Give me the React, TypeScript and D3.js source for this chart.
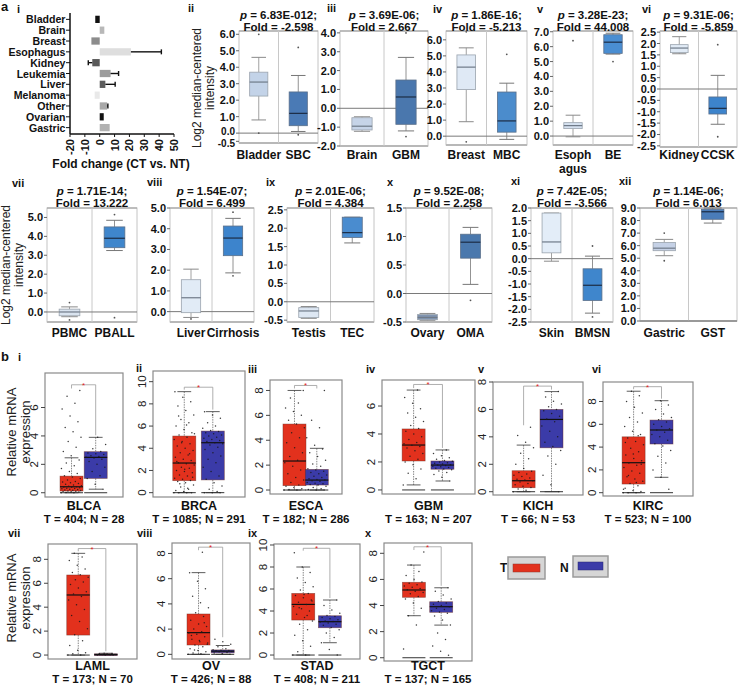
import React from "react";
import * as d3 from "d3";

const FONT = "'Liberation Sans', Arial, Helvetica, sans-serif";

// ---------------- Panel a-i : fold change bars ----------------
const cancerTypes = ["Bladder", "Brain", "Breast", "Esophagus", "Kidney", "Leukemia", "Liver", "Melanoma", "Other", "Ovarian", "Gastric"];
const foldChange = [-3, 3.1, -5.6, 21, -5, 7.3, 3.8, -3.4, 5, 2.7, 6.7];
const foldError = [0, 0, 0, 20.5, 2.7, 5.4, 6.6, 0, 0.5, 0, 0];
const foldTicks = [-20, -10, 0, 10, 20, 30, 40, 50];
const barShades = ["#111", "#b8b8b8", "#8c8c8c", "#dedede", "#5a5a5a", "#9c9c9c", "#5e5e5e", "#e9e9e9", "#a8a8a8", "#111", "#b2b2b2"];

// ---------------- Panel a ii-xii : Oncomine boxes ----------------
const oncoIds = ["ii", "iii", "iv", "v", "vi", "vii", "viii", "ix", "x", "xi", "xii"];
const oncoP = ["6.83E-012", "3.69E-06", "1.86E-16", "3.28E-23", "9.31E-06", "1.71E-14", "1.54E-07", "2.01E-06", "9.52E-08", "7.42E-05", "1.14E-06"];
const oncoFold = ["-2.598", "2.667", "-5.213", "44.008", "-5.859", "13.222", "6.499", "4.384", "2.258", "-3.566", "6.013"];
const oncoNormalLabel = ["Bladder", "Brain", "Breast", "Esoph\nagus", "Kidney", "PBMC", "Liver", "Testis", "Ovary", "Skin", "Gastric"];
const oncoTumorLabel = ["SBC", "GBM", "MBC", "BE", "CCSK", "PBALL", "Cirrhosis", "TEC", "OMA", "BMSN", "GST"];
// [lowWhisker, q1, median, q3, highWhisker]
const oncoNormalStats = [
  [0.8, 2.25, 3.1, 3.7, 4.6],
  [-1.22, -1.15, -0.95, -0.5, -0.45],
  [0.9, 2.9, 4.3, 5.06, 5.5],
  [-0.05, 0.5, 0.7, 0.9, 1.4],
  [1.55, 1.6, 1.8, 1.95, 2.3],
  [-0.25, -0.2, 0.0, 0.15, 0.27],
  [-0.28, -0.05, 0.67, 1.54, 2.05],
  [-0.45, -0.43, -0.25, -0.16, -0.13],
  [-0.47, -0.46, -0.42, -0.37, -0.35],
  [-0.1, 0.23, 0.66, 1.8, 1.8],
  [5.2, 5.6, 5.8, 6.25, 6.5],
];
const oncoTumorStats = [
  [0.1, 0.45, 1.2, 2.5, 3.5],
  [-1.2, -0.85, 0.6, 1.5, 2.7],
  [-0.2, 0.25, 0.95, 2.75, 3.3],
  [5.5, 5.55, 6.3, 6.8, 6.9],
  [-1.55, -1.1, -0.85, -0.35, 0.6],
  [3.25, 3.4, 3.9, 4.5, 4.85],
  [1.87, 2.7, 3.55, 4.13, 4.5],
  [1.6, 1.75, 1.88, 2.3, 2.3],
  [0.16, 0.62, 0.9, 1.04, 1.16],
  [-2.15, -1.65, -1.05, -0.4, 0.1],
  [7.8, 8.1, 8.7, 8.9, 9.0],
];
const oncoNormalOut = [[6.0, 0.0], [], [6.5, -0.35], [6.4], [], [0.5, -0.42], [-0.35], [], [], [], [7.0, 4.8]];
const oncoTumorOut = [[5.2, -0.1], [4.0, -1.5], [5.1], [5.0], [1.95, -2.1], [5.15, -0.3], [4.8, 1.73], [], [1.48, -0.12], [0.5, -2.3], []];
const oncoDomains = [[-0.6, 6.2], [-2.0, 4.1], [-0.55, 6.55], [-0.6, 7.05], [-2.55, 2.55], [-0.53, 5.5], [-0.5, 5.0], [-0.55, 2.55], [-0.5, 1.5], [-2.5, 2.0], [0, 9]];
const oncoTicks = [
  [-0.5, 0, 1, 2, 3, 4, 5, 6],
  [-2, -1, 0, 1, 2, 3, 4],
  [0, 1, 2, 3, 4, 5, 6],
  [0, 1, 2, 3, 4, 5, 6, 7],
  [-2.5, -2, -1.5, -1, -0.5, 0, 0.5, 1, 1.5, 2, 2.5],
  [0, 1, 2, 3, 4, 5],
  [0, 1, 2, 3, 4, 5],
  [-0.5, 0, 0.5, 1, 1.5, 2, 2.5],
  [-0.5, 0, 0.5, 1, 1.5],
  [-2.5, -2, -1.5, -1, -0.5, 0, 0.5, 1, 1.5, 2],
  [0, 1, 2, 3, 4, 5, 6, 7, 8, 9],
];

// ---------------- Panel b : GEPIA boxes ----------------
const gepiaIds = ["i", "ii", "iii", "iv", "v", "vi", "vii", "viii", "ix", "x"];
const gepiaCodes = ["BLCA", "BRCA", "ESCA", "GBM", "KICH", "KIRC", "LAML", "OV", "STAD", "TGCT"];
const gepiaT = [404, 1085, 182, 163, 66, 523, 173, 426, 408, 137];
const gepiaN = [28, 291, 286, 207, 53, 100, 70, 88, 211, 165];
const gepiaTumorStats = [
  [0, 0.12, 0.42, 1.17, 2.46],
  [0, 1.08, 2.67, 5.1, 9.1],
  [0, 0.35, 2.33, 5.3, 8.0],
  [0.36, 2.07, 3.21, 4.36, 7.14],
  [0, 0.29, 0.8, 1.53, 3.4],
  [0, 0.76, 2.63, 4.9, 8.9],
  [0, 1.67, 5.02, 6.69, 8.5],
  [0, 0.74, 1.72, 3.2, 6.48],
  [0, 3.18, 4.6, 5.6, 8.0],
  [3.22, 4.63, 5.19, 5.78, 7.1],
];
const gepiaNormalStats = [
  [0.25, 1.01, 2.49, 2.89, 3.9],
  [0, 1.15, 4.5, 5.55, 7.3],
  [0, 0.4, 0.8, 1.66, 3.35],
  [0.64, 1.48, 1.78, 2.07, 2.86],
  [0, 3.2, 5.27, 6.0, 7.3],
  [1.35, 4.27, 5.5, 6.37, 8.07],
  [0, 0.02, 0.05, 0.1, 0.15],
  [0, 0.12, 0.25, 0.35, 0.7],
  [1.12, 2.48, 3.03, 3.57, 5.0],
  [2.5, 3.48, 3.91, 4.29, 5.36],
];
const gepiaTumorPoints = [
  [0, 0, 0.02, 0.05, 0.05, 0.08, 0.1, 0.12, 0.15, 0.18, 0.2, 0.22, 0.25, 0.28, 0.3, 0.32, 0.35, 0.38, 0.4, 0.42, 0.45, 0.5, 0.55, 0.6, 0.65, 0.7, 0.75, 0.8, 0.9, 1.0, 1.1, 1.2, 1.35, 1.5, 1.7, 1.9, 2.1, 2.3, 2.6, 2.9, 3.2, 3.6, 3.9, 4.3, 4.6, 5.0, 5.4, 5.9, 6.3, 6.8, 7.2],
  [0, 0, 0, 0, 0.1, 0.2, 0.3, 0.5, 0.7, 0.9, 1.0, 1.1, 1.2, 1.3, 1.5, 1.6, 1.8, 1.9, 2.0, 2.2, 2.3, 2.5, 2.6, 2.7, 2.9, 3.0, 3.2, 3.4, 3.6, 3.8, 4.0, 4.2, 4.4, 4.6, 4.8, 5.0, 5.2, 5.4, 5.7, 6.0, 6.3, 6.6, 7.0, 7.4, 7.8, 8.2, 8.6, 9.1, 0.4, 0.8, 1.4, 2.1, 2.8, 3.5, 4.5, 5.3, 6.1, 6.9],
  [0, 0, 0.05, 0.1, 0.2, 0.3, 0.4, 0.6, 0.8, 1.0, 1.3, 1.6, 1.9, 2.2, 2.4, 2.7, 3.0, 3.4, 3.8, 4.2, 4.6, 5.0, 5.3, 5.6, 6.0, 6.3, 6.6, 7.0, 7.4, 8.0],
  [0.36, 0.8, 1.2, 1.5, 1.8, 2.0, 2.2, 2.4, 2.6, 2.8, 3.0, 3.1, 3.2, 3.3, 3.4, 3.6, 3.8, 4.0, 4.2, 4.4, 4.6, 4.9, 5.2, 5.5, 5.8, 6.2, 6.6, 7.14],
  [0, 0.1, 0.2, 0.3, 0.4, 0.5, 0.6, 0.7, 0.8, 0.85, 0.9, 1.0, 1.1, 1.2, 1.3, 1.4, 1.5, 1.7, 2.0, 2.4, 2.8, 3.2, 3.6, 4.1, 4.7],
  [0, 0, 0, 0.1, 0.2, 0.4, 0.6, 0.8, 1.0, 1.2, 1.4, 1.7, 1.9, 2.2, 2.4, 2.6, 2.8, 3.0, 3.3, 3.6, 3.9, 4.2, 4.5, 4.8, 5.1, 5.4, 5.8, 6.2, 6.6, 7.0, 7.5, 8.0, 8.5, 8.9, 0.3, 0.9, 1.5, 2.5, 3.4, 4.4, 5.0],
  [0, 0, 0.1, 0.2, 0.4, 0.8, 1.2, 1.7, 2.2, 2.8, 3.3, 3.8, 4.2, 4.6, 4.9, 5.1, 5.3, 5.6, 5.9, 6.1, 6.3, 6.5, 6.7, 6.9, 7.2, 7.5, 7.9, 8.2, 8.5],
  [0, 0.05, 0.1, 0.2, 0.3, 0.45, 0.6, 0.75, 0.9, 1.0, 1.2, 1.4, 1.6, 1.7, 1.8, 2.0, 2.2, 2.4, 2.7, 3.0, 3.3, 3.7, 4.1, 4.6, 5.2, 5.8, 6.48, 8.1, 0.35, 0.8, 1.1, 1.5, 2.5],
  [0, 0, 0.3, 0.8, 1.3, 1.8, 2.3, 2.8, 3.1, 3.4, 3.7, 4.0, 4.2, 4.4, 4.6, 4.8, 5.0, 5.2, 5.4, 5.6, 5.9, 6.2, 6.6, 7.0, 7.5, 8.0, 9.3, 3.6, 4.3, 4.9, 5.5],
  [0.67, 2.5, 3.22, 3.8, 4.2, 4.5, 4.7, 4.9, 5.0, 5.1, 5.2, 5.3, 5.4, 5.5, 5.6, 5.7, 5.8, 6.0, 6.3, 6.6, 7.1, 8.1],
];
const gepiaNormalPoints = [
  [0.25, 0.6, 1.0, 1.2, 1.5, 1.8, 2.0, 2.2, 2.35, 2.45, 2.5, 2.55, 2.6, 2.7, 2.75, 2.8, 2.9, 3.1, 3.4, 3.9],
  [0, 0, 0, 0.1, 0.3, 0.6, 0.9, 1.2, 1.5, 1.9, 2.3, 2.7, 3.0, 3.3, 3.6, 3.9, 4.1, 4.3, 4.4, 4.5, 4.6, 4.7, 4.8, 4.9, 5.0, 5.1, 5.2, 5.3, 5.4, 5.5, 5.6, 5.8, 6.0, 6.3, 6.7, 7.0, 7.3],
  [0, 0, 0.05, 0.1, 0.2, 0.3, 0.4, 0.45, 0.5, 0.55, 0.6, 0.7, 0.75, 0.8, 0.85, 0.9, 1.0, 1.1, 1.2, 1.3, 1.4, 1.5, 1.6, 1.7, 1.9, 2.1, 2.4, 2.7, 3.0, 3.3, 3.6, 4.2, 5.0, 5.6, 8.0],
  [0.64, 0.9, 1.1, 1.25, 1.35, 1.45, 1.5, 1.55, 1.6, 1.65, 1.7, 1.75, 1.78, 1.8, 1.85, 1.9, 1.95, 2.0, 2.05, 2.1, 2.2, 2.3, 2.45, 2.6, 2.86],
  [0, 0.5, 1.2, 2.0, 2.6, 3.0, 3.3, 3.6, 4.0, 4.4, 4.8, 5.1, 5.3, 5.5, 5.7, 5.9, 6.0, 6.2, 6.4, 6.6, 6.9, 7.3],
  [0.3, 1.35, 2.0, 2.6, 3.2, 3.7, 4.1, 4.3, 4.6, 4.9, 5.1, 5.3, 5.5, 5.6, 5.8, 6.0, 6.2, 6.4, 6.6, 6.9, 7.3, 7.7, 8.07],
  [0, 0, 0, 0.02, 0.05, 0.05, 0.08, 0.1, 0.12, 0.15],
  [0, 0.05, 0.1, 0.15, 0.2, 0.22, 0.25, 0.28, 0.3, 0.33, 0.36, 0.45, 0.6, 0.8, 1.0, 1.2],
  [0, 0.5, 1.12, 1.6, 2.0, 2.3, 2.5, 2.7, 2.8, 2.9, 3.0, 3.05, 3.1, 3.2, 3.3, 3.4, 3.5, 3.6, 3.8, 4.1, 4.5, 5.0],
  [0.2, 0.5, 0.9, 1.4, 1.9, 2.5, 2.9, 3.2, 3.4, 3.5, 3.6, 3.7, 3.8, 3.9, 4.0, 4.1, 4.2, 4.3, 4.5, 4.8, 5.1, 5.36],
];
const gepiaDomains = [[-0.3, 8.43], [-0.39, 10.96], [-0.32, 8.84], [-0.29, 7.86], [-0.24, 8.0], [-0.29, 9.71], [-0.33, 9.28], [-0.37, 8.83], [-0.36, 10.09], [-0.25, 8.79]];
const gepiaTickMax = [6, 10, 8, 6, 8, 8, 8, 8, 10, 8];

// ---------------- layout (positions only) ----------------
const oncoFrames = [
  [239, 318, 31, 143], [340, 428, 31, 146], [446, 527, 31, 145], [553, 633, 31, 145], [660, 737, 31, 147],
  [47, 137, 208, 322], [170, 254, 208, 322], [287, 374, 208, 322], [406, 492, 208, 322], [531, 613, 208, 322], [640, 737, 208, 321],
];
const oncoRoman = [[188, 12], [327, 12], [433, 13], [537, 13], [642, 13], [12, 187], [147, 186], [266, 186], [387, 186], [511, 185], [619, 185]];
const oncoNormalFill = ["#c3d3e8", "#c6d4e8", "#dfe9f5", "#d5e1f0", "#e1ebf6", "#d9e3ef", "#e1ebf6", "#dde7f3", "#8094b0", "#e3edf8", "#c5d1e6"];
const oncoTumorFill = ["#4a7ab5", "#4a77ad", "#4b8ccc", "#4a8ed2", "#3d84cc", "#3f86cc", "#3d84cc", "#4a8ccf", "#4a78ad", "#3f86cc", "#4a7cb9"];
const gepiaFrames = [
  [45, 123, 373, 497], [153, 245, 371, 497], [270, 342, 380, 494], [382, 475, 380, 494], [493, 583, 382, 495], [603, 693, 382, 496],
  [48, 137, 544, 659], [172, 250, 543, 659], [274, 360, 544, 659], [384, 472, 543, 661],
];
const gepiaRoman = [[18, 361], [136, 372], [248, 373], [366, 373], [478, 373], [592, 373], [8, 537], [137, 537], [248, 537], [365, 537]];
const RED = "#e2311d";
const BLUE = "#3b3ba8";

function FoldBars() {
  const x = d3.scaleLinear().domain([-20, 50]).range([70, 174]);
  const y = d3.scaleBand().domain(cancerTypes).range([14, 133]).paddingInner(0.33).paddingOuter(0.16);
  const bh = y.bandwidth();
  return (
    <g>
      {cancerTypes.map((c, i) => {
        const v = foldChange[i];
        const y0 = y(c)!;
        const xa = x(Math.min(0, v));
        const xb = x(Math.max(0, v));
        const e = foldError[i];
        const ye = y0 + bh / 2;
        return (
          <g key={c}>
            <rect x={xa} y={y0} width={xb - xa} height={bh} fill={barShades[i]} />
            {e > 0 && (
              <g stroke="#111" strokeWidth={1.4}>
                <line x1={x(v)} x2={x(v + Math.sign(v) * e)} y1={ye} y2={ye} />
                <line x1={x(v + Math.sign(v) * e)} x2={x(v + Math.sign(v) * e)} y1={ye - 2.5} y2={ye + 2.5} />
              </g>
            )}
            <line x1={66} x2={70} y1={ye} y2={ye} stroke="#111" strokeWidth={1} />
            <text x={65.5} y={ye} textAnchor="end" dominantBaseline="central" fontSize={10.6} fontWeight="bold">{c}</text>
          </g>
        );
      })}
      <line x1={70} x2={70} y1={13} y2={134} stroke="#111" strokeWidth={1.5} />
      <line x1={70} x2={174} y1={134} y2={134} stroke="#111" strokeWidth={1.5} />
      {foldTicks.map((t) => (
        <g key={t}>
          <line x1={x(t)} x2={x(t)} y1={134} y2={137} stroke="#111" />
          <text transform={`translate(${x(t) + 4},139) rotate(-90)`} textAnchor="end" fontSize={11} fontWeight="bold">{t}</text>
        </g>
      ))}
      <text x={121} y={168} textAnchor="middle" fontSize={12} fontWeight="bold">Fold change (CT vs. NT)</text>
    </g>
  );
}

function BoxGlyph({ cx, bw, y, stats, fill, stroke, med, capStroke }) {
  const [lo, q1, md, q3, hi] = stats;
  const cap = bw * 0.8;
  return (
    <g>
      <line x1={cx} x2={cx} y1={y(hi)} y2={y(q3)} stroke={capStroke} strokeWidth={0.8} />
      <line x1={cx} x2={cx} y1={y(q1)} y2={y(lo)} stroke={capStroke} strokeWidth={0.8} />
      <line x1={cx - cap / 2} x2={cx + cap / 2} y1={y(hi)} y2={y(hi)} stroke={capStroke} strokeWidth={1} />
      <line x1={cx - cap / 2} x2={cx + cap / 2} y1={y(lo)} y2={y(lo)} stroke={capStroke} strokeWidth={1} />
      <rect x={cx - bw / 2} y={y(q3)} width={bw} height={Math.max(1, y(q1) - y(q3))} fill={fill} stroke={stroke} strokeWidth={0.8} />
      <line x1={cx - bw / 2} x2={cx + bw / 2} y1={y(md)} y2={y(md)} stroke={med} strokeWidth={1.2} />
    </g>
  );
}

function OncoPanel({ i }) {
  const [x0, x1, y0, y1] = oncoFrames[i];
  const y = d3.scaleLinear().domain(oncoDomains[i]).range([y1, y0]);
  const xb = d3.scaleBand().domain(["N", "T"]).range([x0, x1]);
  const cN = xb("N")! + xb.bandwidth() / 2;
  const cT = xb("T")! + xb.bandwidth() / 2;
  const bw = (x1 - x0) * 0.23;
  const row2 = i >= 5;
  const tb1 = row2 ? 195 : 19;
  const labY = row2 ? 337 : 159;
  const mid = (x0 + x1) / 2;
  const zero = y(0);
  const tks = oncoTicks[i];
  return (
    <g>
      <rect x={x0} y={y0} width={x1 - x0} height={y1 - y0} fill="none" stroke="#c4c4c4" strokeWidth={1} />
      <line x1={x0} x2={x1} y1={y0} y2={y0} stroke="#9a9a9a" strokeWidth={1.2} />
      <line x1={x0} x2={x1} y1={y1} y2={y1} stroke="#b8b8b8" strokeWidth={2} />
      <line x1={mid} x2={mid} y1={y0} y2={y1} stroke="#c8c8c8" strokeWidth={1} />
      {zero >= y0 && zero <= y1 && <line x1={x0} x2={x1} y1={zero} y2={zero} stroke="#7a7a7a" strokeWidth={1} />}
      {tks.map((t, k) => {
        // nudge labels apart when two ticks sit closer than the text height
        const gapBelow = k === 0 && tks.length > 1 ? y(t) - y(tks[1]) : 99;
        const gapAbove = k === 1 ? y(tks[0]) - y(t) : 99;
        const dy = gapBelow < 11 ? 2 : gapAbove < 11 ? -1.5 : 0;
        return (
          <g key={t}>
            <line x1={x0 - 3} x2={x0} y1={y(t)} y2={y(t)} stroke="#666" />
            <text x={x0 - 4} y={y(t) + dy} textAnchor="end" dominantBaseline="central" fontSize={gapBelow < 11 || gapAbove < 11 ? 10 : 11} fontWeight="bold">{t.toFixed(1)}</text>
          </g>
        );
      })}
      <BoxGlyph cx={cN} bw={bw} y={y} stats={oncoNormalStats[i]} fill={oncoNormalFill[i]} stroke="#9aa3ad" med="#6f7a88" capStroke="#8a8a8a" />
      <BoxGlyph cx={cT} bw={bw} y={y} stats={oncoTumorStats[i]} fill={oncoTumorFill[i]} stroke="#5a6f8a" med="#1c2c44" capStroke="#777" />
      {oncoNormalOut[i].map((v, k) => <circle key={"n" + k} cx={cN} cy={y(v)} r={0.9} fill="#555" />)}
      {oncoTumorOut[i].map((v, k) => <circle key={"t" + k} cx={cT} cy={y(v)} r={0.9} fill="#555" />)}
      <text x={mid} y={tb1} textAnchor="middle" fontSize={11.5} fontWeight="bold">
        <tspan fontStyle="italic">p</tspan> = {oncoP[i]};
      </text>
      <text x={mid} y={tb1 + 12} textAnchor="middle" fontSize={11.5} fontWeight="bold">Fold = {oncoFold[i]}</text>
      {oncoNormalLabel[i].split("\n").map((s, k) => (
        <text key={k} x={cN} y={labY + k * 14} textAnchor="middle" fontSize={12} fontWeight="bold">{s}</text>
      ))}
      <text x={cT} y={labY} textAnchor="middle" fontSize={12} fontWeight="bold">{oncoTumorLabel[i]}</text>
      <text x={oncoRoman[i][0]} y={oncoRoman[i][1]} fontSize={11} fontWeight="bold">{oncoIds[i]}</text>
    </g>
  );
}

const GOLD = 0.6180339887;

function Points({ vals, cx, y, w, k }) {
  return (
    <g fill="#1a1a1a" opacity={0.85}>
      {vals.map((v, j) => {
        const off = (((j + k) * GOLD) % 1 - 0.5) * w;
        return <circle key={j} cx={cx + off} cy={y(v)} r={0.75} />;
      })}
    </g>
  );
}

function GepiaPanel({ i }) {
  const [x0, x1, y0, y1] = gepiaFrames[i];
  const y = d3.scaleLinear().domain(gepiaDomains[i]).range([y1, y0]);
  const w = x1 - x0;
  const xp = d3.scalePoint().domain(["T", "N"]).range([x0 + 0.34 * w, x0 + 0.65 * w]);
  const cT = xp("T")!;
  const cN = xp("N")!;
  const bw = 23;
  const ticks = d3.range(0, gepiaTickMax[i] + 1, 2);
  const tMax = d3.max(gepiaTumorPoints[i])!;
  const nMax = d3.max(gepiaNormalPoints[i])!;
  const br = y(Math.max(tMax, nMax) + 0.4);
  const row2 = i >= 6;
  const lab1 = row2 ? 670 : 510;
  const mid = (x0 + x1) / 2;
  return (
    <g>
      <rect x={x0} y={y0} width={w} height={y1 - y0} fill="none" stroke="#8a8a8a" strokeWidth={1.2} />
      {ticks.map((t) => (
        <g key={t}>
          <line x1={x0 - 4} x2={x0} y1={y(t)} y2={y(t)} stroke="#444" />
          <text transform={`translate(${x0 - 7},${y(t)}) rotate(-90)`} textAnchor="middle" fontSize={11.5} fill="#222">{t}</text>
        </g>
      ))}
      {[{ c: cT, s: gepiaTumorStats[i], f: RED }, { c: cN, s: gepiaNormalStats[i], f: BLUE }].map(({ c, s, f }, k) => {
        const [lo, q1, md, q3, hi] = s;
        return (
          <g key={k}>
            <line x1={c} x2={c} y1={y(hi)} y2={y(q3)} stroke="#555" strokeWidth={0.7} strokeDasharray="1.5,1" />
            <line x1={c} x2={c} y1={y(q1)} y2={y(lo)} stroke="#555" strokeWidth={0.7} strokeDasharray="1.5,1" />
            <line x1={c - bw * 0.3} x2={c + bw * 0.3} y1={y(hi)} y2={y(hi)} stroke="#333" strokeWidth={0.8} />
            <line x1={c - bw * 0.3} x2={c + bw * 0.3} y1={y(lo)} y2={y(lo)} stroke="#333" strokeWidth={0.8} />
            <line x1={c - bw / 2} x2={c + bw / 2} y1={y(0)} y2={y(0)} stroke="#333" strokeWidth={1} />
            <rect x={c - bw / 2} y={y(q3)} width={bw} height={Math.max(1.5, y(q1) - y(q3))} fill={f} stroke="#6a2a20" strokeOpacity={0.6} strokeWidth={0.7} />
            <line x1={c - bw / 2} x2={c + bw / 2} y1={y(md)} y2={y(md)} stroke="#111" strokeWidth={1.2} />
          </g>
        );
      })}
      <Points vals={gepiaTumorPoints[i]} cx={cT} y={y} w={bw * 0.9} k={0} />
      <Points vals={gepiaNormalPoints[i]} cx={cN} y={y} w={bw * 0.9} k={3} />
      <g stroke="#9a9a9a" strokeWidth={0.8} fill="none">
        <line x1={cT} x2={cN} y1={br} y2={br} />
        <line x1={cT} x2={cT} y1={br} y2={y(tMax) - 2} />
        <line x1={cN} x2={cN} y1={br} y2={y(nMax) - 2} />
      </g>
      <text x={(cT + cN) / 2} y={br + 3} textAnchor="middle" fontSize={8} fill="#e02020">*</text>
      <text x={mid} y={lab1} textAnchor="middle" fontSize={12.5} fontWeight="bold">{gepiaCodes[i]}</text>
      <text x={mid} y={lab1 + 13} textAnchor="middle" fontSize={11.5} fontWeight="bold">T = {gepiaT[i]}; N = {gepiaN[i]}</text>
      <text x={gepiaRoman[i][0]} y={gepiaRoman[i][1]} fontSize={11} fontWeight="bold">{gepiaIds[i]}</text>
    </g>
  );
}

function RotLabel({ x, y, lines, size, weight }) {
  return (
    <g>
      {lines.map((s, k) => (
        <text key={k} transform={`translate(${x + k * size * 1.1},${y}) rotate(-90)`} textAnchor="middle" fontSize={size} fontWeight={weight} fill="#222">{s}</text>
      ))}
    </g>
  );
}

export default function App() {
  return (
    <svg width={738} height={687} viewBox="0 0 738 687" style={{ position: "absolute", left: 0, top: 0, background: "#fff" }} fontFamily={FONT} fill="#111">
      <rect width={738} height={687} fill="#fff" />
      <text x={1} y={11} fontSize={13} fontWeight="bold">a</text>
      <text x={17} y={13} fontSize={11} fontWeight="bold">i</text>
      <FoldBars />
      <RotLabel x={201} y={88} lines={["Log2 median-centered", "intensity"]} size={12} weight="normal" />
      <RotLabel x={10} y={265} lines={["Log2 median-centered", "intensity"]} size={12} weight="normal" />
      {oncoIds.map((_, i) => <OncoPanel key={i} i={i} />)}
      <text x={1} y={361} fontSize={13} fontWeight="bold">b</text>
      <RotLabel x={16} y={432} lines={["Relative mRNA", "expression"]} size={13} weight="normal" />
      <RotLabel x={16} y={598} lines={["Relative mRNA", "expression"]} size={13} weight="normal" />
      {gepiaIds.map((_, i) => <GepiaPanel key={i} i={i} />)}
      <g>
        <text x={500} y={572} fontSize={12} fontWeight="bold">T</text>
        <rect x={508} y={557} width={37} height={22} fill="#d6d6d6" stroke="#9a9a9a" strokeWidth={1.5} />
        <rect x={513} y={564} width={27} height={8} fill={RED} stroke="#8a3a30" strokeWidth={0.5} />
        <text x={560} y={572} fontSize={12} fontWeight="bold">N</text>
        <rect x={573} y={556} width={35} height={21} fill="#d6d6d6" stroke="#9a9a9a" strokeWidth={1.5} />
        <rect x={578} y={562} width={25} height={8} fill={BLUE} stroke="#2a2a70" strokeWidth={0.5} />
      </g>
    </svg>
  );
}
